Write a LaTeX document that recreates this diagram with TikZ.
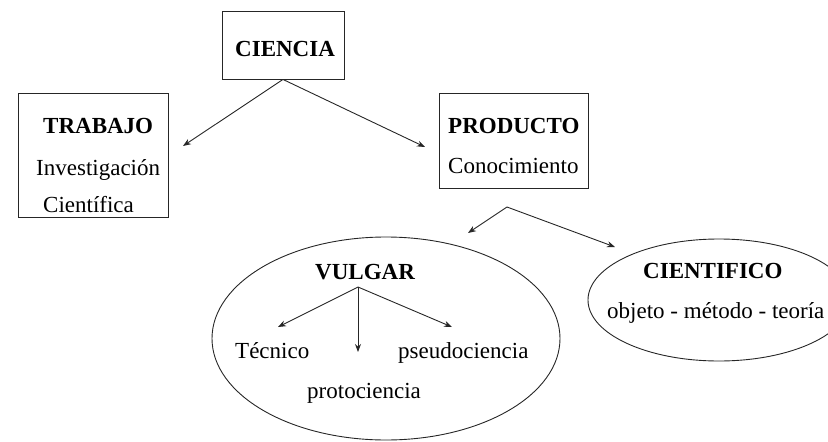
\documentclass[tikz,border=0pt]{standalone}
\usepackage{fontspec}
\setmainfont{Liberation Serif}
\usetikzlibrary{arrows.meta,shapes.geometric}

\begin{document}
\begin{tikzpicture}[
    x=1pt, y=-1pt,
    font=\fontsize{23}{27}\selectfont,
    box/.style={rectangle, draw=black!85, line width=0.9pt, inner sep=0pt},
    oval/.style={ellipse, draw=black!85, line width=0.9pt, inner sep=0pt},
    txt/.style={inner sep=0pt, anchor=base west},
    arrow/.style={-{Stealth[length=8pt,width=6pt]}, line width=0.9pt, draw=black!85}
]
\clip (0,0) rectangle (828,442);

% Boxes
\node[box, minimum width=122pt, minimum height=68pt] (ciencia) at (283,45) {};
\node[box, minimum width=150pt, minimum height=124pt] (trabajo) at (93,155) {};
\node[box, minimum width=149pt, minimum height=95pt] (producto) at (513.5,140.5) {};

% Ovals
\node[oval, minimum width=348pt, minimum height=203pt] (vulgar) at (386,338.5) {};
\node[oval, minimum width=262pt, minimum height=122pt] (cientifico) at (719,300) {};

% Texts
\node[txt, font=\fontsize{23}{27}\selectfont\bfseries] (tciencia) at (235,56) {CIENCIA};
\node[txt, font=\fontsize{23}{27}\selectfont\bfseries] (ttrabajo) at (43,133) {TRABAJO};
\node[txt] (tinvest) at (36,175) {Investigación};
\node[txt] (tcientifica) at (43,212) {Científica};
\node[txt, font=\fontsize{23}{27}\selectfont\bfseries] (tproducto) at (448,133) {PRODUCTO};
\node[txt] (tconoc) at (448,173) {Conocimiento};
\node[txt, font=\fontsize{23}{27}\selectfont\bfseries] (tvulgar) at (315,279) {VULGAR};
\node[txt] (ttecnico) at (235,358) {Técnico};
\node[txt] (tpseudo) at (398,358) {pseudociencia};
\node[txt] (tproto) at (307,398) {protociencia};
\node[txt, font=\fontsize{23}{27}\selectfont\bfseries] (tcientifico) at (643,278) {CIENTIFICO};
\node[txt] (tomt) at (607,318) {objeto - método - teoría};

% Arrow ends
\coordinate (ctrab) at (183,146);
\coordinate (cprod) at (425,147);
\coordinate (pfork) at (507,207);
\coordinate (pvul) at (468,233);
\coordinate (pcie) at (615,247);
\coordinate (vfork) at (358,287);
\coordinate (vtec) at (278,327);
\coordinate (vpro) at (358,352);
\coordinate (vpse) at (452,327);

% Arrows
\draw[arrow] (ciencia.south) -- (ctrab);
\draw[arrow] (ciencia.south) -- (cprod);
\draw[arrow] (pfork) -- (pvul);
\draw[arrow] (pfork) -- (pcie);
\draw[arrow] (vfork) -- (vtec);
\draw[arrow] (vfork) -- (vpro);
\draw[arrow] (vfork) -- (vpse);

\end{tikzpicture}
\end{document}
